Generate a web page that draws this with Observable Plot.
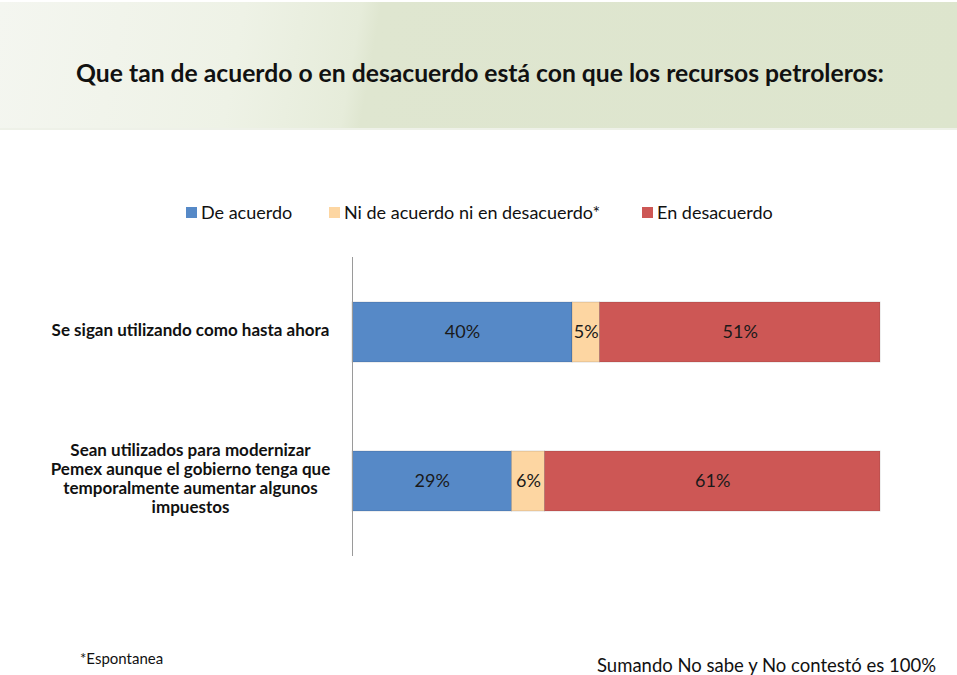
<!DOCTYPE html>
<html><head><meta charset="utf-8">
<script src="https://cdn.jsdelivr.net/npm/d3@7"></script>
<script src="https://cdn.jsdelivr.net/npm/@observablehq/plot@0.6"></script>
<style>
body{margin:0;background:#fff;font-family:Lato,"Open Sans",sans-serif;}
#wrap{position:relative;width:957px;height:675px;overflow:hidden;}
#header{position:absolute;left:0;top:2px;width:957px;height:126px;
 background:linear-gradient(100deg,#f4f6f0 0%,#eef2e6 25%,#e6ecda 37%,#dfe6d0 39%,#dde5cd 100%);
 border-bottom:2px solid #eef1e8;}
#title{position:absolute;left:60px;width:840px;top:56px;text-align:center;font-weight:bold;font-size:24.7px;color:#111;white-space:nowrap;}
.item{position:absolute;top:201px;display:flex;align-items:center;gap:4px;font-size:18px;color:#111;white-space:nowrap;}
.sw{width:11px;height:11px;display:inline-block;}
#chart{position:absolute;left:0;top:0;}
#fn1{position:absolute;left:80px;top:649px;font-size:15px;color:#111;}
#fn2{position:absolute;left:597px;top:656px;font-size:18.5px;line-height:18px;color:#111;white-space:nowrap;}
</style></head>
<body><div id="wrap">
<div id="header"><div id="title">Que tan de acuerdo o en desacuerdo está con que los recursos petroleros:</div></div>
<div id="chart"></div>
<div id="fn1">*Espontanea</div>
<div id="fn2">Sumando No sabe y No contestó es 100%</div>
</div>
<script>
const categories = ["Se sigan utilizando como hasta ahora",
  "Sean utilizados para modernizar\nPemex aunque el gobierno tenga que\ntemporalmente aumentar algunos\nimpuestos"];
const series = ["De acuerdo", "Ni de acuerdo ni en desacuerdo*", "En desacuerdo"];
const deAcuerdo = [40, 29];
const ni = [5, 6];
const enDesacuerdo = [51, 61];
const colors = ["#5689c7", "#fdd6a2", "#cd5755"];

const data = [];
categories.forEach((c, i) => {
  data.push({cat: c, serie: series[0], v: deAcuerdo[i]});
  data.push({cat: c, serie: series[1], v: ni[i]});
  data.push({cat: c, serie: series[2], v: enDesacuerdo[i]});
});

const plot = Plot.plot({
  width: 957, height: 675,
  marginLeft: 352, marginRight: 55, marginTop: 257, marginBottom: 119,
  style: {fontFamily: "Lato, 'Open Sans', sans-serif", background: "transparent"},
  x: {domain: [0, 100], axis: null},
  y: {domain: categories, paddingInner: 0.6, paddingOuter: 0.3, label: null},
  color: {domain: series, range: colors},
  marks: [
    Plot.barX(data, Plot.stackX({x: "v", y: "cat", fill: "serie", order: series, stroke: "#00000022", strokeWidth: 1})),
    Plot.text(data, Plot.stackX({x: "v", y: "cat", z: "serie", order: series, text: d => d.v + "%", fontSize: 18, fill: "#1a1a1a"})),
    Plot.ruleX([0], {stroke: "#9a9a9a", strokeWidth: 1}),
    Plot.axisY({tickSize: 0, tickPadding: 162, textAnchor: "middle", fontSize: 17, fontWeight: "bold", fill: "#111", lineHeight: 1.12, dy: -3, label: null})
  ]
});
document.getElementById("chart").appendChild(plot);

const legLefts = [186, 329, 642];
const wrap = document.getElementById("wrap");
series.forEach((s, i) => {
  const it = document.createElement("div"); it.className = "item"; it.style.left = legLefts[i] + "px";
  const sw = document.createElement("span"); sw.className = "sw"; sw.style.background = colors[i];
  const t = document.createElement("span"); t.textContent = s;
  it.appendChild(sw); it.appendChild(t); wrap.appendChild(it);
});
</script>
</body></html>
